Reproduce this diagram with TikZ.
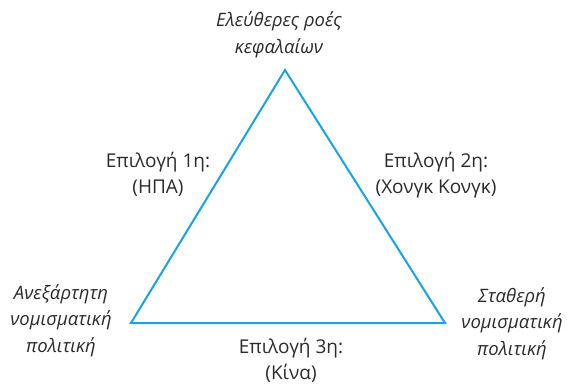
\documentclass[tikz,border=0pt]{standalone}
\usepackage{fontspec}
\setmainfont{Open Sans}
\usepackage{tikz}
\definecolor{edgecyan}{HTML}{1AA3E3}
\definecolor{textgray}{HTML}{2B2B2B}
\tikzset{
  corner/.style={font=\itshape\fontsize{18.5}{26.5}\selectfont, text=textgray, align=center, anchor=base, inner sep=0pt},
  choice/.style={font=\fontsize{19}{25.5}\selectfont, text=textgray, align=center, anchor=base, inner sep=0pt},
}

\begin{document}
\begin{tikzpicture}[x=1pt,y=-1pt]
\useasboundingbox (0,0) rectangle (567,386);
\coordinate (apex) at (285,70);
\coordinate (left) at (131,323);
\coordinate (right) at (445,323);
\draw[edgecyan,line width=2pt,line join=miter] (apex) -- (left) -- (right) -- cycle;
% corners (anchor at baseline of last line)
\node[corner] (capital) at (279,53) {Ελεύθερες ροές\\κεφαλαίων};
\node[corner] (independent) at (61,352) {Ανεξάρτητη\\νομισματική\\πολιτική};
\node[corner] (fixed) at (512,355) {Σταθερή\\νομισματική\\πολιτική};
% choices
\node[choice] (usa) at (158,193) {Επιλογή 1η:\\(ΗΠΑ)};
\node[choice] (hongkong) at (436,193) {Επιλογή 2η:\\(Χονγκ Κονγκ)};
\node[choice] (china) at (291,379) {Επιλογή 3η:\\(Κίνα)};
\end{tikzpicture}
\end{document}
